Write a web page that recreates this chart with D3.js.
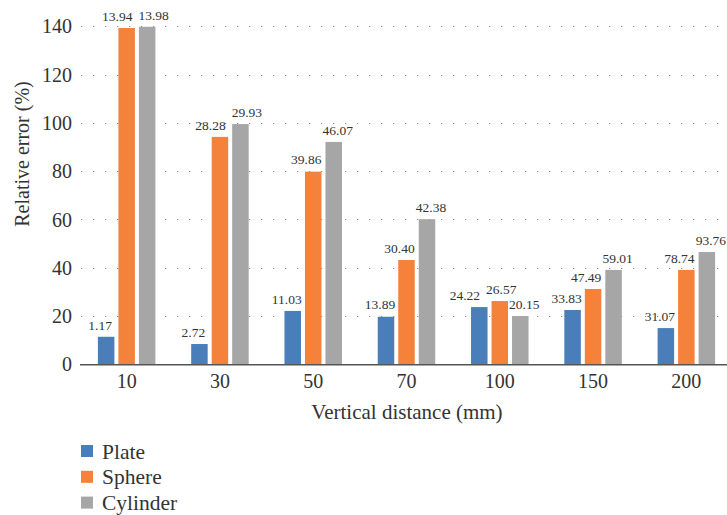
<!DOCTYPE html>
<html><head><meta charset="utf-8">
<script src="https://cdn.jsdelivr.net/npm/d3@7/dist/d3.min.js"></script>
<style>html,body{margin:0;padding:0;background:#fff;}svg{display:block;}
text{font-family:"Liberation Serif","DejaVu Serif",serif;}</style>
</head><body>
<svg id="chart" width="727" height="515"></svg>
<script>
const categories = ["10", "30", "50", "70", "100", "150", "200"];
const seriesNames = ["Plate", "Sphere", "Cylinder"];
const plateValues = [11.4, 8.4, 22.1, 19.7, 23.7, 22.5, 15.0];
const sphereValues = [139.3, 94.2, 79.8, 43.2, 26.2, 31.2, 39.1];
const cylinderValues = [139.8, 99.5, 92.1, 60.1, 20.0, 39.1, 46.5];
const plateLabels = ["1.17", "2.72", "11.03", "13.89", "24.22", "33.83", "31.07"];
const sphereLabels = ["13.94", "28.28", "39.86", "30.40", "26.57", "47.49", "78.74"];
const cylinderLabels = ["13.98", "29.93", "46.07", "42.38", "20.15", "59.01", "93.76"];
const yTicks = [0, 20, 40, 60, 80, 100, 120, 140];

(function () {
const colors = ["#4a7ebb", "#f5823a", "#a6a6a6"];
const labelShift = [-6, -7, 4];
const textColor = "#333";
const fontStack = "'Liberation Serif','DejaVu Serif',serif";

const svg = d3.select("#chart");
const mLeft = 80, mRight = 733, mTop = 26.3, mBottom = 364.3;

const x = d3.scaleBand().domain(categories).range([mLeft, mRight]).paddingInner(0).paddingOuter(0);
const y = d3.scaleLinear().domain([0, 140]).range([mBottom, mTop]);
const barW = 16.5, barPitch = 20.5;
const xs = d3.scaleBand().domain(seriesNames).range([-barPitch * 1.5, barPitch * 1.5]);

// gridlines
svg.append("g").selectAll("line").data(yTicks.filter(d => d > 0)).join("line")
  .attr("x1", mLeft + 1).attr("x2", 727)
  .attr("y1", d => Math.round(y(d)) + 0.5).attr("y2", d => Math.round(y(d)) + 0.5)
  .attr("stroke", "#8a8a8a").attr("stroke-width", 1.2)
  .attr("stroke-dasharray", "1.2,10.8");

// y axis tick labels
const yAxis = d3.axisLeft(y).tickValues(yTicks).tickSize(0).tickPadding(0).tickFormat(d3.format("d"));
const yg = svg.append("g").attr("transform", `translate(${mLeft - 8},0)`).call(yAxis);
yg.select(".domain").remove();
yg.attr("font-family", fontStack).attr("font-size", 20);
yg.selectAll("text").attr("fill", textColor).attr("dy", "0.33em");

// x axis
const xAxis = d3.axisBottom(x).tickSize(0).tickPadding(0);
const xg = svg.append("g").attr("transform", `translate(0,${mBottom})`).call(xAxis);
xg.select(".domain").remove();
xg.attr("font-family", fontStack).attr("font-size", 20);
xg.selectAll("text").attr("fill", textColor).attr("dy", "1.2em");

const series = [plateValues, sphereValues, cylinderValues];
const labels = [plateLabels, sphereLabels, cylinderLabels];
const cxOf = (c, si) => x(c) + x.bandwidth() / 2 + xs(seriesNames[si]) + xs.bandwidth() / 2;

series.forEach((vals, si) => {
  svg.append("g").selectAll("rect").data(categories).join("rect")
    .attr("x", c => cxOf(c, si) - barW / 2)
    .attr("width", barW)
    .attr("y", (c, i) => y(vals[i]))
    .attr("height", (c, i) => y(0) - y(vals[i]))
    .attr("fill", colors[si]);
});

// data labels with simple overlap avoidance
const lblG = svg.append("g");
categories.forEach((c, ci) => {
  const items = series.map((vals, si) => {
    const t = lblG.append("text")
      .attr("text-anchor", "middle").attr("dy", "0.35em")
      .attr("font-family", fontStack)
      .attr("font-size", 13.5).attr("fill", textColor)
      .text(labels[si][ci]);
    return { t, x: cxOf(c, si) + labelShift[si], y: y(vals[ci]) - 12, w: t.node().getComputedTextLength() };
  });
  for (let iter = 0; iter < 20; iter++) {
    for (let a = 0; a < items.length - 1; a++) {
      const p = items[a], q = items[a + 1];
      if (Math.abs(p.y - q.y) < 14) {
        const need = (p.w + q.w) / 2 + 6 - (q.x - p.x);
        if (need > 0) { p.x -= need / 2; q.x += need / 2; }
      }
    }
  }
  items.forEach(it => it.t.attr("x", it.x).attr("y", it.y));
});

// baseline axis line
svg.append("line").attr("x1", mLeft).attr("x2", 727)
  .attr("y1", mBottom + 0.5).attr("y2", mBottom + 0.5)
  .attr("stroke", "#555").attr("stroke-width", 1.5);

// axis titles
svg.append("text").attr("x", 407).attr("y", 419)
  .attr("text-anchor", "middle").attr("font-family", fontStack).attr("font-size", 21).attr("fill", textColor)
  .text("Vertical distance (mm)");
svg.append("text").attr("transform", "translate(22,154) rotate(-90)").attr("dy", "0.35em")
  .attr("text-anchor", "middle").attr("font-family", fontStack).attr("font-size", 20).attr("fill", textColor)
  .text("Relative error (%)");

// legend
const lg = svg.append("g").selectAll("g").data(seriesNames).join("g")
  .attr("transform", (d, i) => `translate(81,${445 + i * 25.8})`);
lg.append("rect").attr("width", 12).attr("height", 12).attr("fill", (d, i) => colors[i]);
lg.append("text").attr("x", 21).attr("y", 13.5)
  .attr("font-family", fontStack)
  .attr("font-size", 21.5).attr("fill", textColor).text(d => d);
})();
</script>
</body></html>
